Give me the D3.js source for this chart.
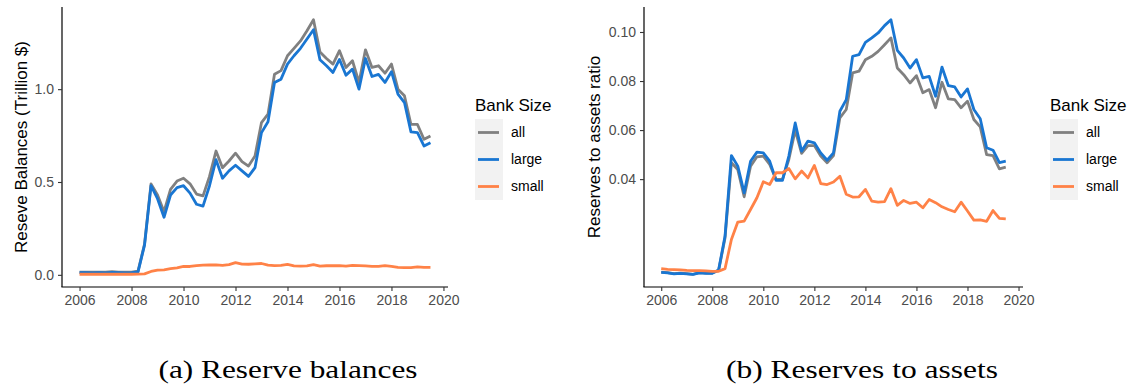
<!DOCTYPE html>
<html>
<head>
<meta charset="utf-8">
<script src="https://cdn.jsdelivr.net/npm/d3@7"></script>
<style>
  html, body { margin: 0; padding: 0; background: #ffffff; }
  svg { display: block; }
  .sans { font-family: "Liberation Sans", Arial, Helvetica, sans-serif; }
  .serif { font-family: "Liberation Serif", "Times New Roman", Times, serif; }
  .tick text { font-family: "Liberation Sans", Arial, Helvetica, sans-serif; }
</style>
</head>
<body>
<svg id="fig" width="1128" height="385"></svg>
<script>
// Quarterly observations, 2006Q1 - 2019Q3
const quarters = [
  "2006Q1","2006Q2","2006Q3","2006Q4","2007Q1","2007Q2","2007Q3","2007Q4",
  "2008Q1","2008Q2","2008Q3","2008Q4","2009Q1","2009Q2","2009Q3","2009Q4",
  "2010Q1","2010Q2","2010Q3","2010Q4","2011Q1","2011Q2","2011Q3","2011Q4",
  "2012Q1","2012Q2","2012Q3","2012Q4","2013Q1","2013Q2","2013Q3","2013Q4",
  "2014Q1","2014Q2","2014Q3","2014Q4","2015Q1","2015Q2","2015Q3","2015Q4",
  "2016Q1","2016Q2","2016Q3","2016Q4","2017Q1","2017Q2","2017Q3","2017Q4",
  "2018Q1","2018Q2","2018Q3","2018Q4","2019Q1","2019Q2","2019Q3"
];

const bankSizes = ["all", "large", "small"];

// Reserve balances, trillion dollars
const reservesAll = [
  0.015,0.015,0.014,0.015,0.014,0.017,0.015,0.014,0.015,0.020,
  0.165,0.490,0.430,0.340,0.460,0.505,0.520,0.490,0.435,0.425,
  0.530,0.667,0.577,0.613,0.655,0.610,0.586,0.640,0.820,0.865,
  1.080,1.100,1.180,1.220,1.260,1.315,1.374,1.200,1.165,1.135,
  1.207,1.117,1.153,1.036,1.212,1.117,1.126,1.086,1.135,1.000,
  0.964,0.810,0.810,0.730,0.748
];
const reservesLarge = [
  0.012,0.012,0.011,0.012,0.011,0.013,0.012,0.011,0.012,0.016,
  0.160,0.480,0.410,0.310,0.430,0.470,0.480,0.440,0.380,0.370,
  0.480,0.620,0.520,0.560,0.590,0.560,0.530,0.577,0.766,0.824,
  1.036,1.054,1.135,1.180,1.220,1.270,1.320,1.158,1.126,1.090,
  1.160,1.075,1.108,1.000,1.165,1.068,1.080,1.036,1.094,0.973,
  0.928,0.770,0.766,0.694,0.712
];
const reservesSmall = [
  0.003,0.003,0.003,0.003,0.003,0.004,0.003,0.003,0.003,0.004,
  0.005,0.018,0.025,0.027,0.033,0.038,0.045,0.045,0.050,0.052,
  0.053,0.054,0.051,0.055,0.066,0.058,0.057,0.059,0.061,0.052,
  0.050,0.051,0.056,0.048,0.047,0.048,0.055,0.047,0.049,0.049,
  0.050,0.047,0.051,0.050,0.048,0.046,0.045,0.049,0.045,0.040,
  0.039,0.039,0.043,0.040,0.040
];

// Reserves to assets ratio
const ratioAll = [
  0.0021,0.0019,0.0015,0.0017,0.0015,0.0012,0.0019,0.0017,0.0017,0.0028,
  0.0160,0.0467,0.0439,0.0328,0.0453,0.0491,0.0494,0.0460,0.0399,0.0399,
  0.0480,0.0600,0.0505,0.0537,0.0537,0.0494,0.0467,0.0496,0.0650,0.0684,
  0.0833,0.0840,0.0887,0.0901,0.0921,0.0948,0.0976,0.0853,0.0826,0.0792,
  0.0822,0.0752,0.0765,0.0691,0.0795,0.0727,0.0724,0.0691,0.0718,0.0643,
  0.0613,0.0500,0.0496,0.0442,0.0449
];
const ratioLarge = [
  0.0020,0.0018,0.0014,0.0016,0.0014,0.0012,0.0018,0.0016,0.0016,0.0030,
  0.0168,0.0496,0.0453,0.0344,0.0473,0.0510,0.0507,0.0473,0.0395,0.0395,
  0.0494,0.0629,0.0514,0.0555,0.0548,0.0507,0.0477,0.0507,0.0677,0.0724,
  0.0901,0.0908,0.0958,0.0976,0.0996,0.1026,0.1050,0.0925,0.0894,0.0853,
  0.0887,0.0813,0.0819,0.0738,0.0857,0.0781,0.0776,0.0735,0.0768,0.0684,
  0.0646,0.0528,0.0518,0.0467,0.0473
];
const ratioSmall = [
  0.0035,0.0032,0.0031,0.0030,0.0028,0.0027,0.0027,0.0026,0.0024,0.0024,
  0.0035,0.0154,0.0225,0.0229,0.0276,0.0324,0.0389,0.0378,0.0426,0.0426,
  0.0443,0.0401,0.0433,0.0405,0.0456,0.0382,0.0378,0.0388,0.0412,0.0338,
  0.0327,0.0328,0.0358,0.0310,0.0306,0.0308,0.0361,0.0293,0.0313,0.0301,
  0.0306,0.0283,0.0317,0.0304,0.0287,0.0276,0.0267,0.0306,0.0270,0.0233,
  0.0234,0.0228,0.0272,0.0240,0.0238
];

const yearTicks = [2006, 2008, 2010, 2012, 2014, 2016, 2018, 2020];
const reserveTicks = [0, 0.5, 1.0];
const ratioTicks = [0.04, 0.06, 0.08, 0.10];

const colors = { all: "#808080", large: "#1976D2", small: "#FF8247" };

// "2008Q3" -> 2008.5
const toYear = q => +q.slice(0, 4) + (+q.slice(5) - 1) / 4;
const years = quarters.map(toYear);

// ggplot-like 5% expansion of a data range
function expand([lo, hi], f = 0.05) {
  const pad = (hi - lo) * f;
  return [lo - pad, hi + pad];
}

const svg = d3.select("#fig");

function drawPanel(cfg) {
  const { left, right, top, bottom } = cfg.box;
  const series = bankSizes.map(k => ({
    key: k,
    points: cfg.values[k].map((v, i) => ({ t: years[i], v }))
  }));

  const x = d3.scaleLinear().domain(expand(d3.extent(years))).range([left, right]);
  const allVals = series.flatMap(s => s.points.map(p => p.v));
  const y = d3.scaleLinear().domain(expand(d3.extent(allVals))).range([bottom, top]);

  const g = svg.append("g");

  // lines
  const line = d3.line().x(d => x(d.t)).y(d => y(d.v));
  g.append("g").selectAll("path")
    .data(series)
    .join("path")
    .attr("d", d => line(d.points))
    .attr("fill", "none")
    .attr("stroke", d => colors[d.key])
    .attr("stroke-width", 2.8)
    .attr("stroke-linejoin", "round");

  // axes
  const xAxis = d3.axisBottom(x).tickValues(yearTicks).tickFormat(d3.format("d"))
    .tickSize(4).tickSizeOuter(0).tickPadding(4);
  const yAxis = d3.axisLeft(y).tickValues(cfg.yTicks).tickFormat(d3.format(cfg.yFormat))
    .tickSize(4).tickSizeOuter(0).tickPadding(4);

  const gx = g.append("g").attr("transform", `translate(0,${bottom})`).call(xAxis);
  const gy = g.append("g").attr("transform", `translate(${left},0)`).call(yAxis);

  [gx, gy].forEach(a => {
    a.attr("font-family", null);
    a.select(".domain").attr("stroke", "#000").attr("stroke-width", 1.2);
    a.selectAll(".tick line").attr("stroke", "#333").attr("stroke-width", 1.1);
    a.selectAll(".tick text").attr("fill", "#4D4D4D").attr("font-size", 14);
  });
  // extend axis lines to the full panel box
  gx.select(".domain").attr("d", `M${left - 0.6},0H${right}`);
  gy.select(".domain").attr("d", `M0,${top}V${bottom}`);

  // y-axis title
  g.append("text")
    .attr("class", "sans")
    .attr("transform", `translate(${cfg.yTitleX},${(top + bottom) / 2}) rotate(-90)`)
    .attr("text-anchor", "middle")
    .attr("font-size", 17)
    .attr("fill", "#000")
    .text(cfg.yTitle);

  // legend
  const lg = g.append("g").attr("transform", `translate(${cfg.legend.x},${cfg.legend.y})`);
  lg.append("text")
    .attr("class", "sans")
    .attr("x", 0).attr("y", 0)
    .attr("font-size", 17)
    .attr("fill", "#000")
    .text("Bank Size");
  const keyH = 27, keyW = 28, keyTop = 8;
  lg.append("rect")
    .attr("x", 0).attr("y", keyTop)
    .attr("width", keyW).attr("height", keyH * bankSizes.length)
    .attr("fill", "#F2F2F2");
  const items = lg.selectAll("g.item").data(bankSizes).join("g")
    .attr("class", "item")
    .attr("transform", (d, i) => `translate(0,${keyTop + keyH * i + keyH / 2})`);
  items.append("line")
    .attr("x1", 3).attr("x2", keyW - 4)
    .attr("stroke", d => colors[d]).attr("stroke-width", 2.8);
  items.append("text")
    .attr("class", "sans")
    .attr("x", keyW + 8).attr("dy", "0.35em")
    .attr("font-size", 14)
    .attr("fill", "#000")
    .text(d => d);

  // sub-figure caption
  svg.append("text")
    .attr("class", "serif")
    .attr("x", cfg.caption.x).attr("y", 378)
    .attr("text-anchor", "middle")
    .attr("font-size", 26)
    .attr("fill", "#000")
    .attr("textLength", cfg.caption.w)
    .attr("lengthAdjust", "spacingAndGlyphs")
    .text(cfg.caption.text);
}

drawPanel({
  box: { left: 62, right: 448, top: 7, bottom: 287 },
  values: { all: reservesAll, large: reservesLarge, small: reservesSmall },
  yTicks: reserveTicks, yFormat: ".1f",
  yTitle: "Reseve Balances (Trillion $)", yTitleX: 27,
  legend: { x: 475, y: 111 },
  caption: { x: 288, w: 259, text: "(a) Reserve balances" }
});

drawPanel({
  box: { left: 644, right: 1023, top: 7, bottom: 287 },
  values: { all: ratioAll, large: ratioLarge, small: ratioSmall },
  yTicks: ratioTicks, yFormat: ".2f",
  yTitle: "Reserves to assets ratio", yTitleX: 600,
  legend: { x: 1050, y: 111 },
  caption: { x: 862, w: 272, text: "(b) Reserves to assets" }
});
</script>
</body>
</html>
